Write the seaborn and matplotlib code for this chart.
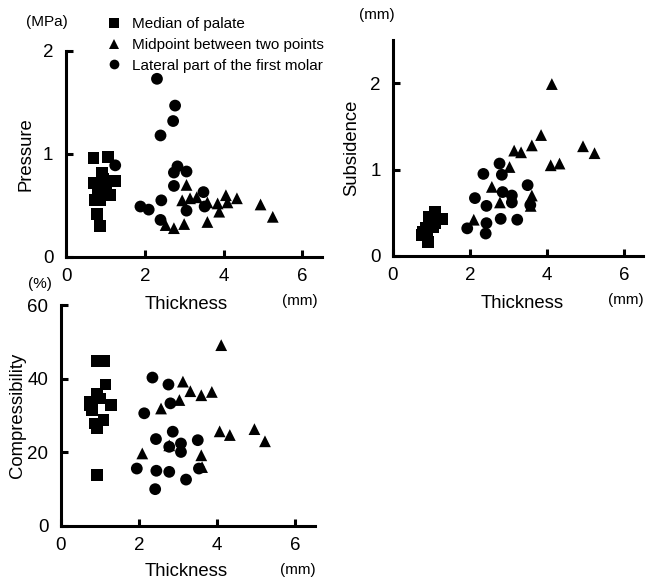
import pandas as pd
import seaborn as sns
import matplotlib.pyplot as plt

sites = ['Median of palate', 'Midpoint between two points', 'Lateral part of the first molar']
site_markers = {sites[0]: 's', sites[1]: '^', sites[2]: 'o'}

# Pressure (MPa) vs thickness (mm)
pressure_median_x = [0.70, 1.06, 0.91, 0.95, 0.70, 1.25, 0.80, 0.98, 1.12, 0.74, 0.87, 0.78, 0.87, 1.02]
pressure_median_y = [0.96, 0.97, 0.82, 0.76, 0.72, 0.74, 0.66, 0.64, 0.60, 0.55, 0.55, 0.42, 0.30, 0.68]
pressure_mid_x = [3.06, 2.95, 3.15, 3.32, 3.59, 3.85, 3.89, 4.06, 4.10, 4.34, 4.94, 5.25, 3.59, 3.00, 2.74, 2.53]
pressure_mid_y = [0.70, 0.55, 0.57, 0.58, 0.53, 0.52, 0.44, 0.60, 0.53, 0.57, 0.51, 0.39, 0.34, 0.32, 0.28, 0.31]
pressure_lat_x = [2.31, 2.77, 2.72, 2.40, 2.83, 2.74, 3.06, 1.25, 2.74, 3.49, 2.42, 1.89, 2.10, 3.52, 3.06, 2.40]
pressure_lat_y = [1.73, 1.47, 1.32, 1.18, 0.88, 0.82, 0.83, 0.89, 0.69, 0.63, 0.55, 0.49, 0.46, 0.49, 0.45, 0.36]

# Subsidence (mm) vs thickness (mm)
subs_median_x = [1.10, 0.94, 1.27, 1.05, 0.79, 0.92, 0.75, 0.88, 1.10, 0.85, 1.02]
subs_median_y = [0.51, 0.45, 0.43, 0.34, 0.28, 0.16, 0.24, 0.24, 0.38, 0.32, 0.43]
subs_mid_x = [4.13, 3.85, 3.61, 3.15, 3.33, 4.94, 5.24, 4.10, 4.33, 3.03, 2.57, 3.61, 3.58, 2.78, 2.10]
subs_mid_y = [1.99, 1.40, 1.28, 1.22, 1.20, 1.27, 1.19, 1.05, 1.07, 1.03, 0.80, 0.70, 0.58, 0.62, 0.42]
subs_lat_x = [2.77, 2.35, 2.83, 2.85, 3.09, 3.09, 3.50, 2.13, 2.43, 2.43, 2.80, 3.23, 1.93, 2.41, 3.57]
subs_lat_y = [1.07, 0.95, 0.94, 0.74, 0.70, 0.62, 0.82, 0.67, 0.58, 0.38, 0.43, 0.42, 0.32, 0.26, 0.59]

# Compressibility (%) vs thickness (mm)
comp_median_x = [0.92, 1.10, 1.14, 0.92, 1.01, 0.75, 1.27, 0.79, 0.75, 0.88, 1.09, 0.92, 0.92]
comp_median_y = [44.8, 44.8, 38.4, 36.0, 34.6, 33.7, 32.8, 31.5, 32.8, 27.8, 28.7, 26.5, 13.8]
comp_mid_x = [4.10, 3.12, 3.31, 3.59, 3.86, 3.03, 2.56, 4.06, 4.32, 4.95, 5.22, 2.77, 3.59, 3.61, 2.08]
comp_mid_y = [49.1, 39.2, 36.6, 35.5, 36.4, 34.2, 31.9, 25.7, 24.7, 26.3, 23.0, 21.9, 19.2, 16.0, 19.7]
comp_lat_x = [2.34, 2.75, 2.80, 2.13, 2.86, 2.43, 3.07, 3.07, 3.50, 2.77, 1.94, 2.44, 2.77, 3.20, 2.41, 3.53]
comp_lat_y = [40.3, 38.4, 33.3, 30.6, 25.6, 23.6, 22.4, 20.1, 23.3, 21.5, 15.6, 15.0, 14.7, 12.6, 10.0, 15.6]


def make_df(groups):
    rows = []
    for site, xs, ys in groups:
        for x, y in zip(xs, ys):
            rows.append({'site': site, 'thickness': x, 'value': y})
    return pd.DataFrame(rows)


df_pressure = make_df([(sites[0], pressure_median_x, pressure_median_y),
                       (sites[1], pressure_mid_x, pressure_mid_y),
                       (sites[2], pressure_lat_x, pressure_lat_y)])
df_subs = make_df([(sites[0], subs_median_x, subs_median_y),
                   (sites[1], subs_mid_x, subs_mid_y),
                   (sites[2], subs_lat_x, subs_lat_y)])
df_comp = make_df([(sites[0], comp_median_x, comp_median_y),
                   (sites[1], comp_mid_x, comp_mid_y),
                   (sites[2], comp_lat_x, comp_lat_y)])

sns.set_style('ticks', {'axes.edgecolor': 'black', 'xtick.color': 'black', 'ytick.color': 'black',
                        'text.color': 'black', 'axes.labelcolor': 'black'})
plt.rcParams['font.family'] = ['Liberation Sans', 'DejaVu Sans']

W, H = 657, 579
fig = plt.figure(figsize=(W / 100, H / 100), dpi=100)


def px_axes(left, right, top, bottom):
    return fig.add_axes([left / W, 1 - bottom / H, (right - left) / W, (bottom - top) / H])


def style_axes(ax, ylim, yticks, ylabel, label_right_px, left_px, width_px):
    ax.set_xlim(0, 6.5)
    ax.set_ylim(*ylim)
    ax.set_xticks([0, 2, 4, 6])
    ax.set_yticks(yticks)
    for s in ['top', 'right']:
        ax.spines[s].set_visible(False)
    for s in ['left', 'bottom']:
        ax.spines[s].set_linewidth(2.2)
        ax.spines[s].set_color('black')
    ax.tick_params(direction='in', length=5, width=2.2, labelsize=13.5, colors='black')
    ax.tick_params(axis='x', pad=8)
    ax.tick_params(axis='y', pad=9)
    ax.set_ylabel(ylabel, fontsize=13.3, color='black')
    ax.yaxis.set_label_coords((label_right_px - left_px) / width_px, 0.5)
    ax.set_xlabel('')


def draw(ax, df):
    sns.scatterplot(data=df, x='thickness', y='value', style='site', markers=site_markers,
                    style_order=sites, color='black', edgecolor='none', s=72, ax=ax,
                    legend=False, clip_on=False)


ax1 = px_axes(66, 322, 51, 257)
draw(ax1, df_pressure)
style_axes(ax1, (0, 2), [0, 1, 2], 'Pressure', 35, 66, 256)

ax2 = px_axes(393, 643, 40, 256)
draw(ax2, df_subs)
style_axes(ax2, (0, 2.5), [0, 1, 2], 'Subsidence', 360, 393, 250)

ax3 = px_axes(61, 315, 305, 526)
draw(ax3, df_comp)
style_axes(ax3, (0, 60), [0, 20, 40, 60], 'Compressibility', 26, 61, 254)


def ftext(x, y, s, size, ha='center'):
    fig.text(x / W, 1 - y / H, s, fontsize=size, ha=ha, va='center', color='black')


# x labels and units
ftext(186, 304, 'Thickness', 13.3)
ftext(300, 301, '(mm)', 11)
ftext(522, 303, 'Thickness', 13.3)
ftext(626, 300, '(mm)', 11)
ftext(186, 572, 'Thickness', 13.3)
ftext(298, 570, '(mm)', 11)
# y units
ftext(47, 22, '(MPa)', 11)
ftext(377, 15, '(mm)', 11)
ftext(40, 284, '(%)', 11)

# legend
handles = [plt.Line2D([], [], marker=site_markers[s], color='black', linestyle='none',
                      markersize=7, markeredgewidth=0) for s in sites]
fig.legend(handles, sites, loc='upper left', bbox_to_anchor=(109 / W, 1 - 17 / H),
           frameon=False, fontsize=11, handlelength=0.7, handletextpad=0.8,
           labelspacing=0.45, borderaxespad=0, borderpad=0)

fig.savefig('out.png', dpi=100)
